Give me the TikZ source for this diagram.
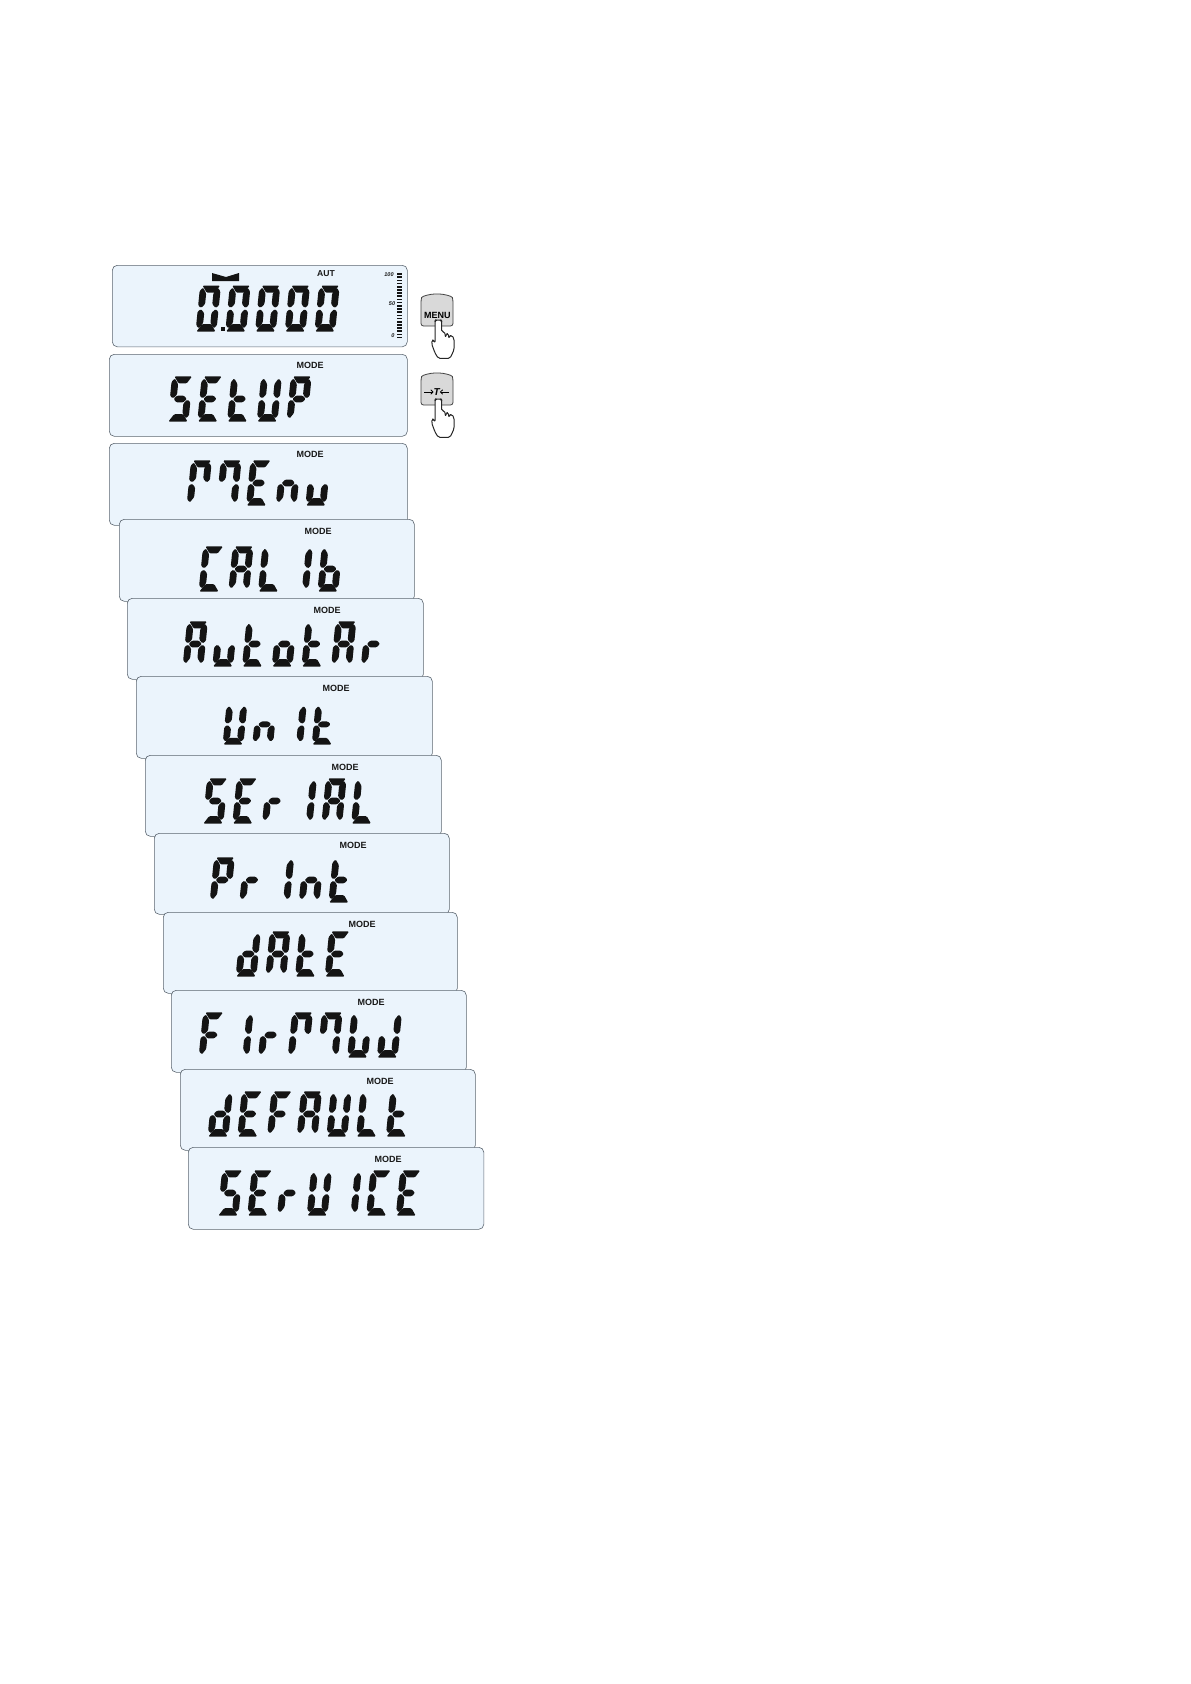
\documentclass[tikz,border=0pt]{standalone}
\usepackage{fontspec}
\setmainfont{Liberation Sans}
\usetikzlibrary{arrows.meta}
\definecolor{lcdblue}{HTML}{EBF4FC}
\definecolor{lcdedge}{HTML}{5C6670}
\definecolor{lcdink}{HTML}{141414}
\definecolor{keygray}{HTML}{D9D9D9}
\tikzset{
  panelbox/.style={draw=lcdedge,fill=lcdblue,line width=.6pt,rounded corners=5pt,inner sep=0pt,anchor=north west},
  lcdseg/.style={fill=lcdink,rounded corners=1.1pt},
  modelabel/.style={font=\bfseries\fontsize{9}{9}\selectfont,text=black!90,inner sep=0pt},
  scalelabel/.style={font=\bfseries\itshape\fontsize{5.5}{5.5}\selectfont,text=black!90,inner sep=0pt},
  lcdtext/.style={text opacity=0,anchor=west,inner sep=0pt,font=\fontsize{36}{36}\selectfont},
  keybody/.style={draw=black!75,fill=keygray,line width=.8pt},
  handshape/.style={draw=black!85,fill=white,line width=1pt,rounded corners=1.6pt,line join=round},
}
\newcommand\segA{\fill[lcdseg] (2,44.6)--(19.5,44.6)--(15,37.6)--(6.8,37.6)--cycle;}
\newcommand\segD{\fill[lcdseg] (.5,-.6)--(19.5,-.6)--(14.6,6.8)--(5.4,6.8)--cycle;}
\newcommand\segG{\fill[lcdseg] (3.4,22)--(6.6,25.4)--(13.4,25.4)--(16.6,22)--(13.4,18.6)--(6.6,18.6)--cycle;}
\newcommand\segF{\fill[lcdseg] (-.4,39)--(2.6,42.6)--(6.4,37)--(6.4,26.4)--(2.8,22.6)--(-.4,25)--cycle;}
\newcommand\segE{\fill[lcdseg] (-.4,19)--(2.8,21.4)--(6.4,17.6)--(6.4,8)--(2.6,2.6)--(-.4,5.5)--cycle;}
\newcommand\segB{\fill[lcdseg] (20.4,39)--(17.4,42.6)--(13.6,37)--(13.6,26.4)--(17.2,22.6)--(20.4,25)--cycle;}
\newcommand\segC{\fill[lcdseg] (20.4,19)--(17.2,21.4)--(13.6,17.6)--(13.6,8)--(17.4,2.6)--(20.4,5.5)--cycle;}
\newcommand\defglyph[2]{\expandafter\def\csname glyph#1\endcsname{#2}}
\defglyph{0}{\segA\segB\segC\segD\segE\segF}
\defglyph{S}{\segA\segF\segG\segC\segD}
\defglyph{E}{\segA\segF\segG\segE\segD}
\defglyph{t}{\segF\segE\segG\segD}
\defglyph{U}{\segF\segE\segD\segC\segB}
\defglyph{P}{\segA\segB\segF\segG\segE}
\defglyph{Ma}{\segA\segB\segE\segF}
\defglyph{Mb}{\segA\segF\segB\segC}
\defglyph{Wa}{\segF\segE\segD\segC}
\defglyph{Wb}{\segE\segD\segC\segB}
\defglyph{n}{\segE\segG\segC}
\defglyph{u}{\segE\segD\segC}
\defglyph{C}{\segA\segF\segE\segD}
\defglyph{A}{\segA\segB\segC\segE\segF\segG}
\defglyph{L}{\segF\segE\segD}
\defglyph{I}{\segB\segC}
\defglyph{b}{\segF\segE\segG\segC\segD}
\defglyph{o}{\segE\segG\segC\segD}
\defglyph{r}{\segE\segG}
\defglyph{d}{\segB\segC\segD\segE\segG}
\defglyph{F}{\segA\segF\segE\segG}
% #1 name  #2 x  #3 baseline y  #4 vertical scale  #5 cells  #6 the word as text
\newcommand\lcdword[6]{%
  \foreach \c [count=\i from 0] in {#5}{%
    \begin{scope}[shift={({#2+\i*29.7},#3)},xslant=.1,yscale=#4,y=1pt]
      \csname glyph\c\endcsname
    \end{scope}}%
  \node[lcdtext] (#1) at (#2,{#3-22}) {#6};}
% #1 name #2 x1 #3 y1 #4 x2 #5 y2
\newcommand\lcdpanel[5]{\node[panelbox,minimum width={(#4-#2)*1pt},minimum height={(#5-#3)*1pt}] (#1) at (#2,#3) {};}
\newcommand\handpath{%
  \draw[handshape] (14,27)--(14.6,26)--(20,26)--(20.7,27)--(20.7,38)--(23.5,37.5)--(24.7,44)
    --(24.9,40)--(27.3,39.5)--(28,45)--(28.4,41.5)--(31,41.5)--(33,44.5)--(33,56)--(29,64.3)
    --(17.3,64.3)--(14,59)--(10.7,50)--(11.2,46)--(13,46.5)--(14,49.3)--cycle;}
\newcommand\keyshape{%
  \draw[keybody,rounded corners=2.5pt] (0,32)--(32,32)--(32,6) .. controls (31,2) and (22,0) .. (16,0) .. controls (10,0) and (1,2) .. (0,6)--cycle;}
\begin{document}
\begin{tikzpicture}[x=1pt,y=-1pt]
\useasboundingbox[fill=white] (0,0) rectangle (1191,1684);

\lcdpanel{p1}{112}{265}{407}{346.5}
\fill[lcdink] (212,273)--(226,277)--(239,273)--(239,281)--(212,281)--cycle;
\node[modelabel,font=\bfseries\fontsize{8.6}{9}\selectfont] (aut) at (326,274) {AUT};
\lcdword{w1}{196}{331}{1.02}{0,0,0,0,0}{0.0000}
\fill[lcdink] (220.6,326.5)--(225.2,326.5)--(225.2,331.2)--(220.6,331.2)--cycle;
\foreach \k in {0,...,20}{\fill[lcdink] (397.3,{274+\k*3.18-.8}) rectangle (401.7,{274+\k*3.18+.8});}
\node[scalelabel] (s100) at (389,275) {100};
\node[scalelabel] (s50) at (392,304) {50};
\node[scalelabel] (s0) at (393,336) {0};

\lcdpanel{p2}{109}{354}{407}{436}
\node[modelabel] (m2) at (310,365) {MODE};
\lcdword{w2}{168}{421}{1}{S,E,t,U,P}{SEtUP}

\lcdpanel{p3}{109}{443}{407}{525}
\node[modelabel] (m3) at (310,454) {MODE};
\lcdword{w3}{187}{505}{1}{Ma,Mb,E,n,u}{MEnu}

\lcdpanel{p4}{119}{519}{414}{601}
\node[modelabel] (m4) at (318,531) {MODE};
\lcdword{w4}{199}{591}{1}{C,A,L,I,b}{CAL Ib}

\lcdpanel{p5}{127}{598}{423}{679}
\node[modelabel] (m5) at (327,610) {MODE};
\lcdword{w5}{183}{666}{1}{A,u,t,o,t,A,r}{AutotAr}

\lcdpanel{p6}{136}{676}{432}{758}
\node[modelabel] (m6) at (336,688) {MODE};
\lcdword{w6}{223}{744}{.89}{U,n,I,t}{Un It}

\lcdpanel{p7}{145}{755}{441}{836}
\node[modelabel] (m7) at (345,767) {MODE};
\lcdword{w7}{203}{823}{1}{S,E,r,I,A,L}{SEr IAL}

\lcdpanel{p8}{154}{833}{449}{914}
\node[modelabel] (m8) at (353,845) {MODE};
\lcdword{w8}{210}{902}{1}{P,r,I,n,t}{Pr Int}

\lcdpanel{p9}{163}{912}{457}{993}
\node[modelabel] (m9) at (362,924) {MODE};
\lcdword{w9}{236}{976}{1}{d,A,t,E}{dAtE}

\lcdpanel{p10}{171}{990}{466}{1072}
\node[modelabel] (m10) at (371,1002) {MODE};
\lcdword{w10}{199}{1057}{1}{F,I,r,Ma,Mb,Wa,Wb}{FIrMW}

\lcdpanel{p11}{180}{1069}{475}{1150}
\node[modelabel] (m11) at (380,1081) {MODE};
\lcdword{w11}{208}{1136}{1}{d,E,F,A,U,L,t}{dEFAULt}

\lcdpanel{p12}{188}{1147}{483.5}{1229}
\node[modelabel] (m12) at (388,1159) {MODE};
\lcdword{w12}{218}{1215}{1}{S,E,r,U,I,C,E}{SErU ICE}

\begin{scope}[shift={(421,294)}]
  \keyshape
  \node[modelabel,text=black] (keymenu) at (16.3,21) {MENU};
  \handpath
\end{scope}
\begin{scope}[shift={(421,373)}]
  \keyshape
  \node[inner sep=0pt,font=\bfseries\itshape\fontsize{10}{10}\selectfont] (keyt) at (15.7,19) {T};
  \coordinate (ltail) at (3,19);
  \coordinate (rtail) at (28,19);
  \draw[line width=.8pt,-{To[length=3pt,width=5pt]}] (ltail) -- (keyt.west);
  \draw[line width=.8pt,-{To[length=3pt,width=5pt]}] (rtail) -- (keyt.east);
  \handpath
\end{scope}
\end{tikzpicture}
\end{document}
